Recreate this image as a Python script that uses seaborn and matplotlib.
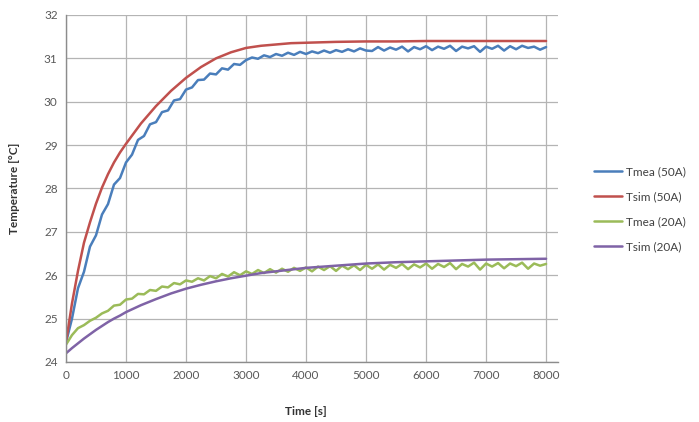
import numpy as np
import pandas as pd
import matplotlib
matplotlib.use("Agg")
import matplotlib.pyplot as plt
import seaborn as sns


# measured series, sampled every 100 s
time_mea = np.arange(0, 8001, 100)

tmea_50 = [
    24.45, 25.00, 25.70, 26.08, 26.66, 26.92, 27.40, 27.64, 28.09, 28.24,
    28.60, 28.78, 29.12, 29.21, 29.48, 29.53, 29.76, 29.80, 30.03, 30.06,
    30.28, 30.33, 30.50, 30.51, 30.65, 30.63, 30.77, 30.74, 30.87, 30.85,
    30.96, 31.02, 30.99, 31.07, 31.03, 31.10, 31.06, 31.13, 31.08, 31.15,
    31.10, 31.16, 31.12, 31.18, 31.13, 31.19, 31.15, 31.21, 31.16, 31.23,
    31.18, 31.17, 31.26, 31.18, 31.25, 31.20, 31.27, 31.16, 31.26, 31.21,
    31.28, 31.19, 31.27, 31.22, 31.29, 31.17, 31.27, 31.23, 31.28, 31.15,
    31.27, 31.22, 31.29, 31.18, 31.28, 31.21, 31.29, 31.24, 31.27, 31.20,
    31.26,
]

tmea_20 = [
    24.40, 24.62, 24.78, 24.85, 24.95, 25.02, 25.12, 25.18, 25.30, 25.32,
    25.44, 25.46, 25.57, 25.56, 25.66, 25.64, 25.74, 25.72, 25.82, 25.79,
    25.88, 25.85, 25.93, 25.88, 25.98, 25.93, 26.03, 25.97, 26.07, 26.00,
    26.09, 26.03, 26.12, 26.05, 26.14, 26.06, 26.15, 26.08, 26.17, 26.10,
    26.18, 26.09, 26.20, 26.12, 26.21, 26.10, 26.22, 26.14, 26.23, 26.12,
    26.24, 26.15, 26.25, 26.13, 26.24, 26.17, 26.26, 26.14, 26.25, 26.18,
    26.27, 26.15, 26.26, 26.19, 26.28, 26.14, 26.26, 26.20, 26.29, 26.13,
    26.27, 26.20, 26.28, 26.16, 26.27, 26.21, 26.29, 26.15, 26.27, 26.22,
    26.26,
]

# simulated series
time_sim = [0, 100, 200, 300, 400, 500, 600, 700, 800, 900, 1000,
            1250, 1500, 1750, 2000, 2250, 2500, 2750, 3000, 3250, 3500,
            3750, 4000, 4500, 5000, 5500, 6000, 6500, 7000, 7500, 8000]

tsim_50 = [24.45, 25.35, 26.10, 26.75, 27.22, 27.65, 28.02, 28.33, 28.60, 28.83, 29.03,
           29.50, 29.90, 30.25, 30.55, 30.80, 31.00, 31.14, 31.24, 31.29, 31.32,
           31.35, 31.36, 31.38, 31.39, 31.39, 31.40, 31.40, 31.40, 31.40, 31.40]

tsim_20 = [24.20, 24.32, 24.43, 24.54, 24.64, 24.74, 24.83, 24.92, 25.00, 25.07, 25.15,
           25.31, 25.45, 25.58, 25.69, 25.78, 25.86, 25.93, 25.99, 26.05, 26.09,
           26.13, 26.17, 26.22, 26.27, 26.30, 26.32, 26.34, 26.36, 26.37, 26.38]

series_labels = ["Tmea (50A)", "Tsim (50A)", "Tmea (20A)", "Tsim (20A)"]
series_colors = ["#4a7ebb", "#c0504d", "#9bbb59", "#7f63a6"]


def plot_chart():

    sns.set_style("white")
    plt.rcParams["font.family"] = ["Lato", "DejaVu Sans"]

    fig = plt.figure(figsize=(6.99, 4.22), dpi=100)
    ax = fig.add_axes([0.0944, 0.1422, 0.704, 0.8223])

    data = [
        (time_mea, tmea_50),
        (time_sim, tsim_50),
        (time_mea, tmea_20),
        (time_sim, tsim_20),
    ]

    for (x, y), label, color in zip(data, series_labels, series_colors):
        sns.lineplot(x=x, y=y, ax=ax, color=color, linewidth=1.8, label=label)

    ax.set_xlim(0, 8200)
    ax.set_ylim(24, 32)
    ax.set_xticks(range(0, 8001, 1000))
    ax.set_yticks(range(24, 33))

    ax.grid(True, color="#b4b4b4", linewidth=0.9)
    ax.set_axisbelow(True)
    for side in ["top", "right"]:
        ax.spines[side].set_visible(False)
    for side in ["left", "bottom"]:
        ax.spines[side].set_color("#8c8c8c")
        ax.spines[side].set_linewidth(1.0)

    ax.tick_params(axis="both", length=0, labelsize=8.5, labelcolor="#595959", pad=6)

    ax.set_xlabel("Time [s]", fontsize=8.5, fontweight="bold", color="#333333")
    ax.set_ylabel("Temperature [°C]", fontsize=8.5, fontweight="bold", color="#333333")
    ax.xaxis.set_label_coords(0.488, -0.128)
    ax.yaxis.set_label_coords(-0.093, 0.5)

    ax.legend(
        loc="center left",
        bbox_to_anchor=(1.06, 0.44),
        frameon=False,
        fontsize=8.5,
        labelcolor="#404040",
        handlelength=2.4,
        handletextpad=0.35,
        labelspacing=1.2,
        borderpad=0,
    )

    fig.savefig("out.png", dpi=100)


if __name__ == "__main__":

    plot_chart()
